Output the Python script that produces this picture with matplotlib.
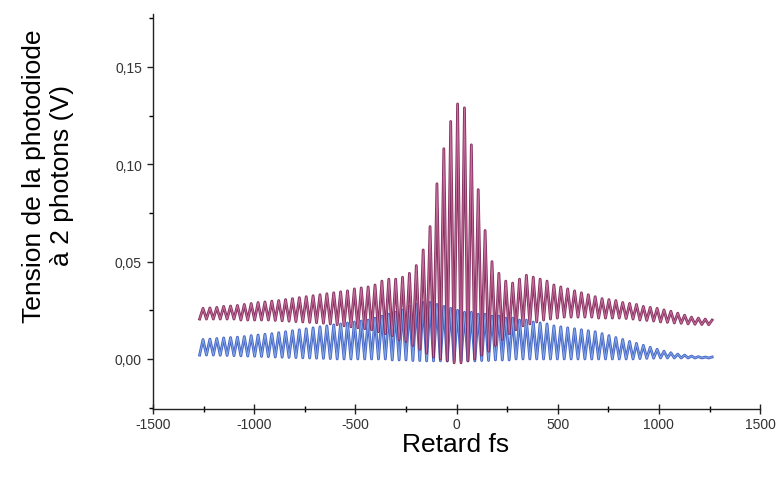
import numpy as np
import matplotlib
matplotlib.use("Agg")
import matplotlib.pyplot as plt
from matplotlib.ticker import MultipleLocator, FuncFormatter

plt.rcParams['font.family'] = ['Liberation Sans', 'DejaVu Sans']

# Delays (fs) of the fringe maxima and minima
peak_delay = [-1253, -1219, -1185, -1151, -1117, -1083, -1049, -1015, -981, -947,
              -913, -879, -845, -811, -777, -743, -709, -675, -641, -607,
              -573, -539, -505, -471, -437, -403, -369, -335, -301, -267,
              -233, -199, -165, -131, -97, -63, -29, 5, 39, 73,
              107, 141, 175, 209, 243, 277, 311, 345, 379, 413,
              447, 481, 515, 549, 583, 617, 651, 685, 719, 753,
              787, 821, 855, 889, 923, 957, 991, 1025, 1059, 1093,
              1127, 1161, 1195, 1229, 1263]
trough_delay = [-1270, -1236, -1202, -1168, -1134, -1100, -1066, -1032, -998, -964,
                -930, -896, -862, -828, -794, -760, -726, -692, -658, -624,
                -590, -556, -522, -488, -454, -420, -386, -352, -318, -284,
                -250, -216, -182, -148, -114, -80, -46, -12, 22, 56,
                90, 124, 158, 192, 226, 260, 294, 328, 362, 396,
                430, 464, 498, 532, 566, 600, 634, 668, 702, 736,
                770, 804, 838, 872, 906, 940, 974, 1008, 1042, 1076,
                1110, 1144, 1178, 1212, 1246]

# Upper (red) trace
red_peaks = [0.0260, 0.0262, 0.0265, 0.0270, 0.0272, 0.0275, 0.0280, 0.0285, 0.0290, 0.0293,
             0.0297, 0.0300, 0.0305, 0.0310, 0.0315, 0.0320, 0.0325, 0.0330, 0.0335, 0.0340,
             0.0345, 0.0350, 0.0360, 0.0365, 0.0370, 0.0380, 0.0400, 0.0410, 0.0410, 0.0420,
             0.0440, 0.0480, 0.0560, 0.0680, 0.0900, 0.1080, 0.1220, 0.1310, 0.1290, 0.1100,
             0.0870, 0.0660, 0.0500, 0.0440, 0.0400, 0.0390, 0.0410, 0.0430, 0.0420, 0.0410,
             0.0400, 0.0380, 0.0370, 0.0360, 0.0350, 0.0340, 0.0330, 0.0320, 0.0310, 0.0305,
             0.0300, 0.0290, 0.0285, 0.0280, 0.0270, 0.0265, 0.0260, 0.0252, 0.0245, 0.0235,
             0.0225, 0.0215, 0.0210, 0.0205, 0.0200]
red_troughs = [0.0205, 0.0205, 0.0205, 0.0205, 0.0205, 0.0205, 0.0200, 0.0200, 0.0200, 0.0200,
               0.0200, 0.0198, 0.0196, 0.0194, 0.0192, 0.0190, 0.0188, 0.0186, 0.0184, 0.0180,
               0.0176, 0.0170, 0.0165, 0.0160, 0.0155, 0.0150, 0.0140, 0.0130, 0.0120, 0.0100,
               0.0090, 0.0070, 0.0050, 0.0030, 0.0010, 0.0000, -0.0010, -0.0020, -0.0020, -0.0010,
               0.0000, 0.0020, 0.0040, 0.0070, 0.0100, 0.0130, 0.0150, 0.0170, 0.0180, 0.0190,
               0.0200, 0.0205, 0.0210, 0.0215, 0.0215, 0.0215, 0.0215, 0.0215, 0.0210, 0.0210,
               0.0210, 0.0210, 0.0208, 0.0205, 0.0200, 0.0198, 0.0195, 0.0190, 0.0188, 0.0185,
               0.0183, 0.0180, 0.0178, 0.0177, 0.0176]

# Lower (blue) trace
blue_peaks = [0.0100, 0.0102, 0.0105, 0.0108, 0.0110, 0.0112, 0.0115, 0.0120, 0.0123, 0.0127,
              0.0130, 0.0135, 0.0140, 0.0145, 0.0150, 0.0155, 0.0160, 0.0165, 0.0170, 0.0175,
              0.0180, 0.0185, 0.0190, 0.0195, 0.0200, 0.0210, 0.0220, 0.0230, 0.0240, 0.0250,
              0.0270, 0.0280, 0.0290, 0.0290, 0.0280, 0.0270, 0.0260, 0.0250, 0.0240, 0.0240,
              0.0230, 0.0230, 0.0220, 0.0220, 0.0210, 0.0210, 0.0200, 0.0200, 0.0190, 0.0185,
              0.0180, 0.0170, 0.0165, 0.0160, 0.0155, 0.0150, 0.0145, 0.0140, 0.0130, 0.0120,
              0.0110, 0.0100, 0.0090, 0.0080, 0.0070, 0.0060, 0.0050, 0.0040, 0.0032, 0.0025,
              0.0020, 0.0015, 0.0012, 0.0010, 0.0010]
blue_troughs = [0.0020, 0.0020, 0.0020, 0.0019, 0.0018, 0.0017, 0.0016, 0.0015, 0.0014, 0.0013,
                0.0012, 0.0010, 0.0009, 0.0008, 0.0007, 0.0006, 0.0005, 0.0004, 0.0003, 0.0002,
                0.0000, 0.0000, 0.0000, 0.0000, 0.0000, 0.0000, 0.0000, 0.0000, -0.0005, -0.0005,
                -0.0005, -0.0008, -0.0008, -0.0010, -0.0010, -0.0010, -0.0010, -0.0010, -0.0010, -0.0010,
                -0.0010, -0.0008, -0.0008, -0.0005, -0.0005, -0.0005, 0.0000, 0.0000, 0.0000, 0.0000,
                0.0000, 0.0000, 0.0000, 0.0000, 0.0000, 0.0000, 0.0000, 0.0000, 0.0000, 0.0000,
                0.0000, 0.0000, 0.0000, 0.0000, 0.0002, 0.0003, 0.0004, 0.0005, 0.0005, 0.0005,
                0.0005, 0.0005, 0.0005, 0.0005, 0.0005]

x_ticks = [-1500, -1000, -500, 0, 500, 1000, 1500]
y_ticks = [0.00, 0.05, 0.10, 0.15]


def interleave(t_delay, t_val, p_delay, p_val):
    d = np.empty(len(t_delay) + len(p_delay))
    v = np.empty_like(d)
    d[0::2] = t_delay
    d[1::2] = p_delay
    v[0::2] = t_val
    v[1::2] = p_val
    return d, v


fig = plt.figure(figsize=(7.82, 4.81), dpi=100)
ax = fig.add_axes([0.1957, 0.1476, 0.7763, 0.8212])

bx, by = interleave(trough_delay, blue_troughs, peak_delay, blue_peaks)
rx, ry = interleave(trough_delay, red_troughs, peak_delay, red_peaks)

ax.plot(bx, by, color='#3d5cc0', lw=2.0, alpha=0.95)
ax.plot(bx, by, color='#88b0ec', lw=0.7, alpha=0.9)
ax.plot(rx, ry, color='#7a1f52', lw=2.0, alpha=0.92)
ax.plot(rx, ry, color='#d47aa8', lw=0.7, alpha=0.85)

ax.set_xlim(-1500, 1500)
ax.set_ylim(-0.0257, 0.1772)

for s in ['top', 'right']:
    ax.spines[s].set_visible(False)
for s in ['left', 'bottom']:
    ax.spines[s].set_color('#222222')
    ax.spines[s].set_linewidth(1.0)

ax.set_xticks(x_ticks)
ax.set_yticks(y_ticks)
ax.xaxis.set_minor_locator(MultipleLocator(250))
ax.yaxis.set_minor_locator(MultipleLocator(0.025))
ax.xaxis.set_major_formatter(FuncFormatter(lambda v, p: f"{int(round(v))}"))
ax.yaxis.set_major_formatter(FuncFormatter(lambda v, p: f"{v:.2f}".replace('.', ',')))

ax.tick_params(axis='x', which='major', direction='inout', length=7, width=1.0,
               labelsize=10, labelcolor='#333333', color='#222222', pad=2)
ax.tick_params(axis='x', which='minor', direction='inout', length=5, width=1.0)
ax.tick_params(axis='y', which='major', direction='out', length=4, width=1.0,
               labelsize=10, labelcolor='#333333', color='#222222', pad=4)
ax.tick_params(axis='y', which='minor', direction='out', length=3, width=1.0)

fig.text(456 / 782, 1 - 445 / 481, 'Retard fs', fontsize=19, ha='center', va='center')
fig.text(48 / 782, 1 - 176 / 481, 'Tension de la photodiode\nà 2 photons (V)',
         fontsize=19, ha='center', va='center', rotation=90, multialignment='center',
         linespacing=1.25)

fig.savefig('out.png', dpi=100)
